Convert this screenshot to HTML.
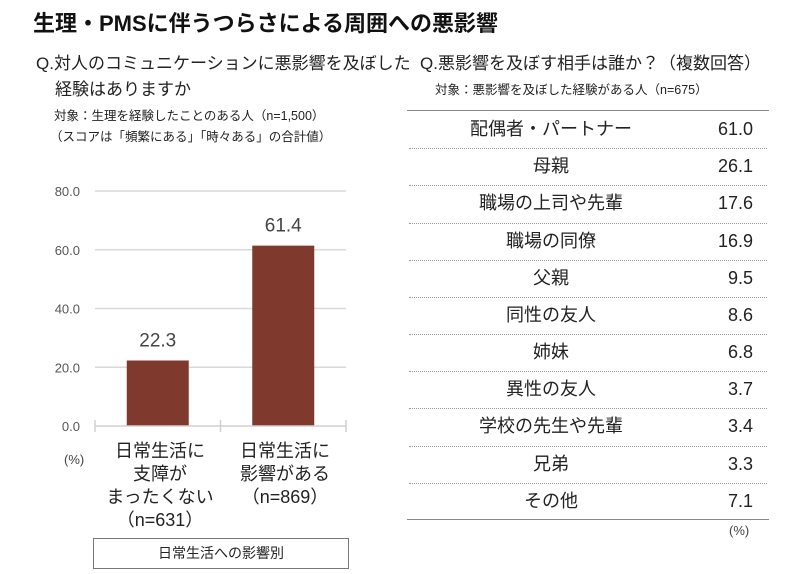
<!DOCTYPE html>
<html><head><meta charset="utf-8"><style>
body{margin:0;width:800px;height:574px;background:#fff;font-family:"Liberation Sans","Noto Sans CJK JP",sans-serif;color:#222;position:relative;overflow:hidden}
.a{position:absolute;white-space:nowrap}
</style></head><body>
<div class="a" style="left:33px;top:6px;font-size:22px;font-weight:bold;color:#111">生理・PMSに伴うつらさによる周囲への悪影響</div>
<div class="a" style="left:36px;top:51px;font-size:17px;line-height:26px">Q.対人のコミュニケーションに悪影響を及ぼした<br><span style="padding-left:19px">経験はありますか</span></div>
<div class="a" style="left:54px;top:106px;font-size:12.5px;line-height:21px">対象：生理を経験したことのある人（n=1,500）</div>
<div class="a" style="left:50px;top:127px;font-size:12.5px;line-height:21px">（スコアは「頻繁にある」「時々ある」の合計値）</div>
<svg class="a" style="left:0;top:0" width="400" height="574">
<g id="grid"></g><g id="bars"></g><g id="xaxis"></g>
</svg>
<div class="a" style="left:64px;top:452px;font-size:13px;color:#444">(%)</div>
<div class="a" style="left:100px;width:120px;top:440px;font-size:18px;line-height:23px;text-align:center">日常生活に<br>支障が<br>まったくない<br>（n=631）</div>
<div class="a" style="left:225px;width:120px;top:440px;font-size:18px;line-height:23px;text-align:center">日常生活に<br>影響がある<br>（n=869）</div>
<div class="a" style="left:93px;top:538px;width:254px;height:29px;border:1px solid #777;font-size:14px;line-height:29px;text-align:center">日常生活への影響別</div>

<div class="a" style="left:420px;top:49px;font-size:17px">Q.悪影響を及ぼす相手は誰か？（複数回答）</div>
<div class="a" style="left:435px;top:79px;font-size:12.5px">対象：悪影響を及ぼした経験がある人（n=675）</div>
<div id="table"></div>
<div class="a" style="left:729px;top:523px;font-size:13px;color:#444">(%)</div>

<script>
const categories=["c1","c2"];
const values=[22.3,61.4];
const ticks=[0,20,40,60,80];
const tickLabels=["0.0","20.0","40.0","60.0","80.0"];
const rowLabels=["配偶者・パートナー","母親","職場の上司や先輩","職場の同僚","父親","同性の友人","姉妹","異性の友人","学校の先生や先輩","兄弟","その他"];
const rowValues=[61.0,26.1,17.6,16.9,9.5,8.6,6.8,3.7,3.4,3.3,7.1];
const NS="http://www.w3.org/2000/svg";
const y=v=>426-v*235/80;
const x0=95,x1=346,bw=(x1-x0)/categories.length;
function mk(t,a,p){const e=document.createElementNS(NS,t);for(const k in a)e.setAttribute(k,a[k]);p.appendChild(e);return e;}
const g=document.getElementById('grid');
ticks.forEach((t,i)=>{
 if(t>0){const l=mk('line',{x1:x0,x2:x1,y1:y(t),y2:y(t),stroke:'#d9d9d9','stroke-width':1.5},g);
 
 }
 const tx=mk('text',{x:80,y:y(t)+5,'text-anchor':'end','font-size':13,fill:'#555'},g);
 tx.textContent=tickLabels[i];
 
 
});
const b=document.getElementById('bars');
values.forEach((v,i)=>{
 const cx=x0+bw*(i+0.5);
 const r=mk('rect',{x:cx-31,y:y(v),width:62,height:426-y(v),fill:'#7f3a2d'},b);
 
 
 const t=mk('text',{x:cx,y:y(v)-14,'text-anchor':'middle','font-size':19,fill:'#444'},b);
 t.textContent=v.toFixed(1);
 
 
});
const xa=document.getElementById('xaxis');
const ax=mk('line',{x1:x0,x2:x1,y1:426,y2:426,stroke:'#d0d0d0','stroke-width':1.5},xa);


for(let i=0;i<=categories.length;i++){
 const tk=mk('line',{x1:x0+bw*i,x2:x0+bw*i,y1:420,y2:432,stroke:'#d0d0d0','stroke-width':1.5},xa);
 
 
}
const tb=document.getElementById('table');
const top0=111,rh=(520-111)/rowLabels.length;
let h='<div class="a" style="left:407px;top:'+(top0-1)+'px;width:362px;border-top:1.5px solid #888"></div>';
h+='<div class="a" style="left:407px;top:519px;width:362px;border-top:1.5px solid #888"></div>';
tb.innerHTML=h;
rowLabels.forEach((l,i)=>{
 const yt=top0+rh*i;
 const lab=document.createElement('div');
 lab.className='a';
 
 
 lab.style.cssText='left:451px;width:200px;text-align:center;top:'+(yt+6)+'px;font-size:18px;line-height:24px';
 lab.textContent=l;tb.appendChild(lab);
 const val=document.createElement('div');
 val.className='a';
 
 
 val.style.cssText='left:653px;width:100px;text-align:right;top:'+(yt+6)+'px;font-size:18px;line-height:24px';
 val.textContent=rowValues[i].toFixed(1);tb.appendChild(val);
 if(i<rowLabels.length-1){
  const d=document.createElement('div');
  d.className='a';
  
  
  d.style.cssText='left:409px;width:358px;top:'+(yt+rh)+'px;border-top:1px dotted #999';
  tb.appendChild(d);
 }
});
</script>
</body></html>
